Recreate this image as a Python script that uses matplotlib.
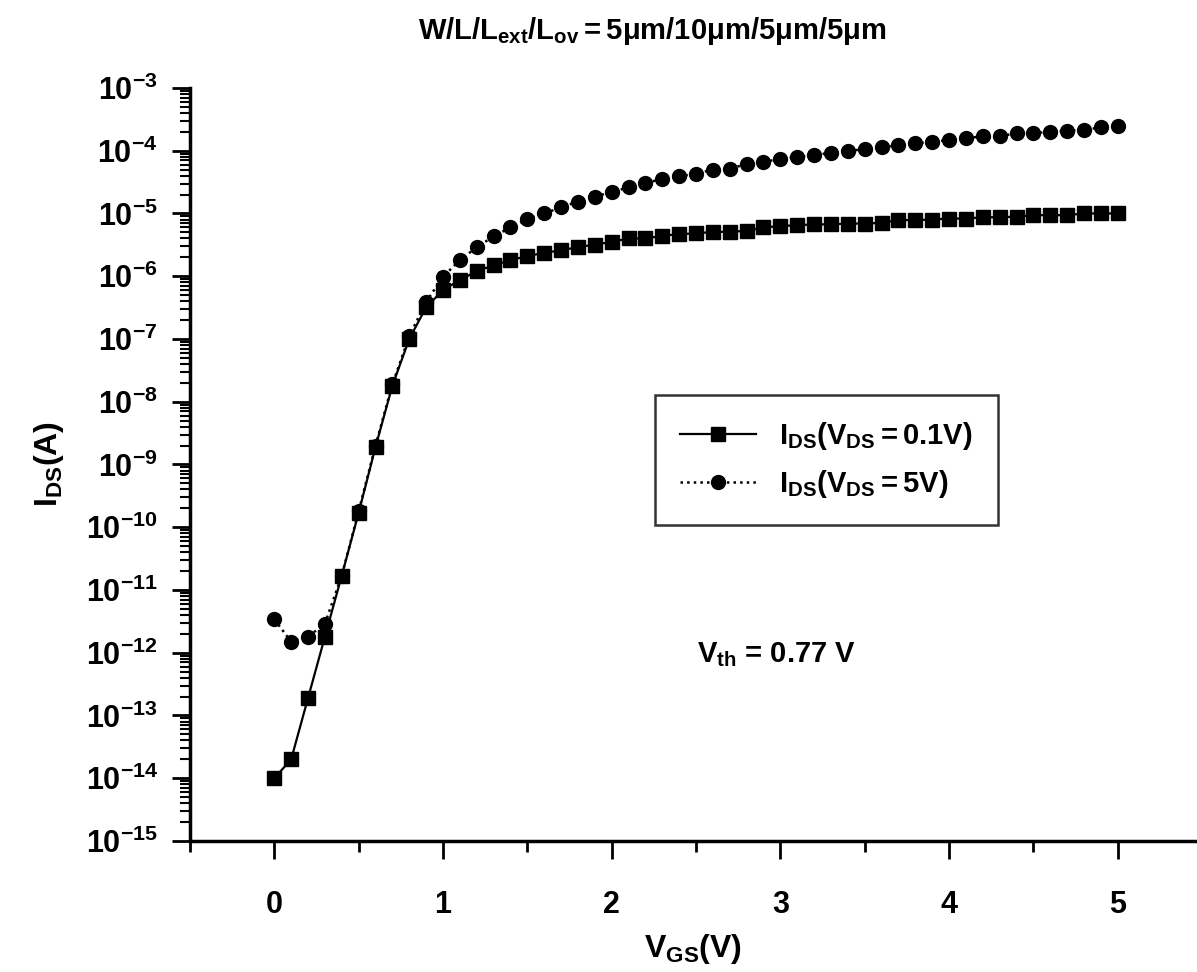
import matplotlib
matplotlib.use("Agg")
import matplotlib.pyplot as plt
from matplotlib.ticker import LogLocator, FixedLocator, MultipleLocator, NullFormatter

# gate sweep (V)
VGS = [0.0, 0.1, 0.2, 0.3, 0.4, 0.5, 0.6, 0.7, 0.8, 0.9,
       1.0, 1.1, 1.2, 1.3, 1.4, 1.5, 1.6, 1.7, 1.8, 1.9,
       2.0, 2.1, 2.2, 2.3, 2.4, 2.5, 2.6, 2.7, 2.8, 2.9,
       3.0, 3.1, 3.2, 3.3, 3.4, 3.5, 3.6, 3.7, 3.8, 3.9,
       4.0, 4.1, 4.2, 4.3, 4.4, 4.5, 4.6, 4.7, 4.8, 4.9, 5.0]

# I_DS at V_DS = 0.1 V
IDS_LIN = [1.0e-14, 2.0e-14, 1.9e-13, 1.8e-12, 1.7e-11, 1.7e-10, 1.9e-9, 1.8e-8, 1.0e-7, 3.2e-7,
           6.0e-7, 8.7e-7, 1.2e-6, 1.5e-6, 1.8e-6, 2.1e-6, 2.35e-6, 2.6e-6, 2.9e-6, 3.2e-6,
           3.5e-6, 4.0e-6, 4.0e-6, 4.4e-6, 4.7e-6, 4.8e-6, 5.1e-6, 5.1e-6, 5.3e-6, 6.0e-6,
           6.3e-6, 6.5e-6, 6.7e-6, 6.7e-6, 6.9e-6, 6.9e-6, 7.1e-6, 7.85e-6, 7.85e-6, 8.0e-6,
           8.3e-6, 8.3e-6, 8.7e-6, 8.7e-6, 8.9e-6, 9.4e-6, 9.4e-6, 9.4e-6, 1.0e-5, 1.0e-5, 1.0e-5]

# I_DS at V_DS = 5 V
IDS_SAT = [3.4e-12, 1.5e-12, 1.8e-12, 2.9e-12, 1.7e-11, 1.8e-10, 2.0e-9, 1.9e-8, 1.1e-7, 3.9e-7,
           9.8e-7, 1.8e-6, 2.9e-6, 4.3e-6, 6.0e-6, 8.1e-6, 1.0e-5, 1.25e-5, 1.55e-5, 1.85e-5,
           2.2e-5, 2.6e-5, 3.1e-5, 3.5e-5, 3.9e-5, 4.3e-5, 5.0e-5, 5.2e-5, 6.1e-5, 6.7e-5,
           7.3e-5, 8.0e-5, 8.5e-5, 9.3e-5, 1.0e-4, 1.05e-4, 1.13e-4, 1.23e-4, 1.31e-4, 1.39e-4,
           1.48e-4, 1.58e-4, 1.7e-4, 1.7e-4, 1.9e-4, 1.9e-4, 2.0e-4, 2.08e-4, 2.15e-4, 2.35e-4, 2.45e-4]

X_TICKS = [0, 1, 2, 3, 4, 5]
Y_DECADES = list(range(-15, -2))

plt.rcParams.update({
    "font.family": "Liberation Sans",
    "font.weight": "bold",
    "axes.labelweight": "bold",
    "mathtext.fontset": "custom",
    "mathtext.rm": "Liberation Sans:bold",
    "mathtext.it": "Liberation Sans:bold",
    "mathtext.bf": "Liberation Sans:bold",
    "mathtext.sf": "Liberation Sans:bold",
    "mathtext.default": "rm",
})

fig = plt.figure(figsize=(11.97, 9.72), dpi=100)
ax = fig.add_axes([0.1587, 0.1348, 0.8413, 0.7747])

ax.plot(VGS, IDS_LIN, "-", color="black", lw=1.6, marker="s", ms=10,
        label=r"$\mathregular{I_{DS}(V_{DS}=0.1V)}$", zorder=3)
ax.plot(VGS, IDS_SAT, ":", color="black", lw=1.8, marker="o", ms=10,
        label=r"$\mathregular{I_{DS}(V_{DS}=5V)}$", zorder=2)

ax.set_yscale("log")
ax.set_ylim(1e-15, 1e-3)
ax.set_xlim(-0.5, 5.47)

ax.spines["top"].set_visible(False)
ax.spines["right"].set_visible(False)
ax.spines["left"].set_linewidth(2.5)
ax.spines["bottom"].set_linewidth(2.5)

ax.xaxis.set_major_locator(FixedLocator(X_TICKS))
ax.xaxis.set_minor_locator(MultipleLocator(0.5))
ax.set_xticklabels([str(t) for t in X_TICKS])
ax.yaxis.set_major_locator(FixedLocator([10.0 ** d for d in Y_DECADES]))
ax.set_yticklabels([r"$\mathregular{10^{%d}}$" % d for d in Y_DECADES])
ax.yaxis.set_minor_locator(LogLocator(base=10, subs=range(2, 10), numticks=20))
ax.yaxis.set_minor_formatter(NullFormatter())

ax.tick_params(axis="x", which="major", direction="out", length=13, width=2, pad=22, labelsize=22)
ax.tick_params(axis="x", which="minor", direction="out", length=8, width=2)
ax.tick_params(axis="y", which="major", direction="out", length=13, width=2, pad=10, labelsize=22)
ax.tick_params(axis="y", which="minor", direction="out", length=7, width=1.5)

ax.set_xlabel(r"$\mathregular{V_{GS}(V)}$", fontsize=23, labelpad=9)
ax.set_ylabel(r"$\mathregular{I_{DS}(A)}$", fontsize=23, labelpad=14)
fig.text(0.545, 0.968, r"$\mathregular{W/L/L_{ext}/L_{ov}=5μm/10μm/5μm/5μm}$",
         ha="center", va="center", fontsize=21)

leg = ax.legend(loc="upper left", bbox_to_anchor=(0.462, 0.592), borderaxespad=0,
                fontsize=21, frameon=True, fancybox=False, edgecolor="black",
                handlelength=2.6, numpoints=1, borderpad=0.85, labelspacing=0.55,
                handletextpad=0.8)
leg.get_frame().set_linewidth(1.8)

ax.text(0.503, 0.247, r"$\mathregular{V_{th}}$ = 0.77 V", transform=ax.transAxes,
        fontsize=21, ha="left", va="center")

fig.savefig("out.png", dpi=100)
